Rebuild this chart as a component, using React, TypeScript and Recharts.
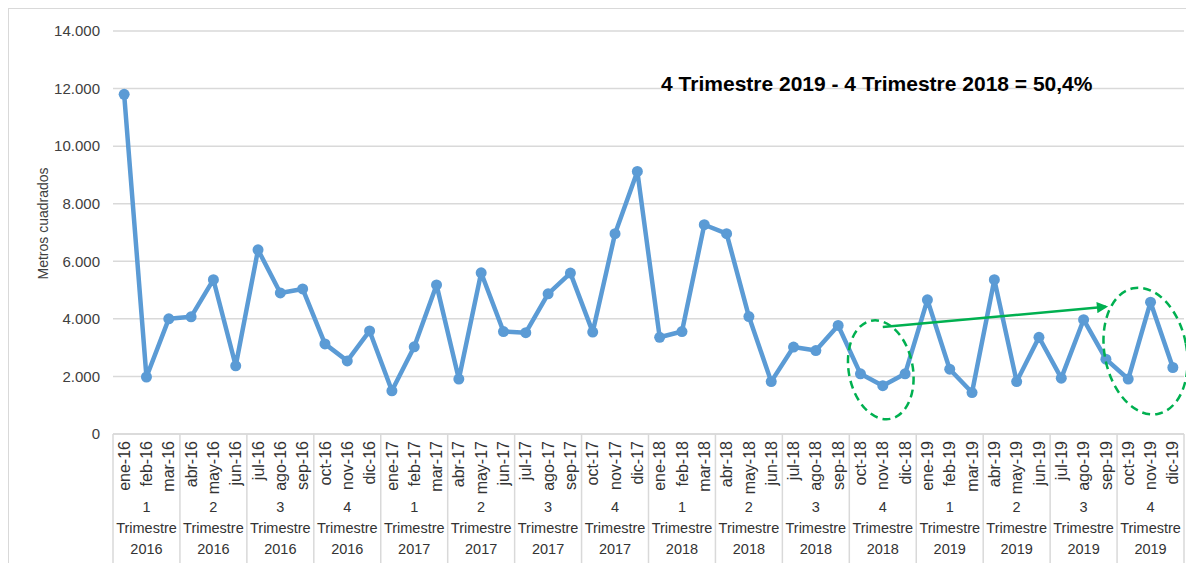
import { LineChart, Line, XAxis, YAxis, CartesianGrid, ReferenceDot, ReferenceLine } from "recharts";

const months = [
  "ene-16", "feb-16", "mar-16", "abr-16", "may-16", "jun-16", "jul-16", "ago-16", "sep-16", "oct-16", "nov-16", "dic-16",
  "ene-17", "feb-17", "mar-17", "abr-17", "may-17", "jun-17", "jul-17", "ago-17", "sep-17", "oct-17", "nov-17", "dic-17",
  "ene-18", "feb-18", "mar-18", "abr-18", "may-18", "jun-18", "jul-18", "ago-18", "sep-18", "oct-18", "nov-18", "dic-18",
  "ene-19", "feb-19", "mar-19", "abr-19", "may-19", "jun-19", "jul-19", "ago-19", "sep-19", "oct-19", "nov-19", "dic-19",
];

// metros cuadrados por mes
const metros = [
  11800, 1980, 4000, 4070, 5360, 2370, 6400, 4900, 5040, 3130, 2540, 3580,
  1500, 3030, 5180, 1910, 5600, 3560, 3520, 4870, 5590, 3540, 6960, 9120,
  3360, 3560, 7270, 6960, 4080, 1820, 3020, 2900, 3770, 2090, 1680, 2090,
  4660, 2250, 1440, 5360, 1820, 3360, 1940, 3970, 2600, 1910, 4580, 2310,
];

const quarterNums = ["1", "2", "3", "4", "1", "2", "3", "4", "1", "2", "3", "4", "1", "2", "3", "4"];
const quarterYears = ["2016", "2016", "2016", "2016", "2017", "2017", "2017", "2017", "2018", "2018", "2018", "2018", "2019", "2019", "2019", "2019"];

const yTicks = [0, 2000, 4000, 6000, 8000, 10000, 12000, 14000];

const annotation = "4 Trimestre 2019 - 4 Trimestre 2018 = 50,4%";

const BLUE = "#5b9bd5";
const GREEN = "#00b050";
const GRID = "#d9d9d9";
const TEXT = "#404040";

const PLOT_W = 1071;
const HALF = PLOT_W / months.length / 2; // media celda de categoría

const data = months.map((m, i) => ({ month: m, value: metros[i] }));

const fmt = (v: number) => String(v).replace(/\B(?=(\d{3})+(?!\d))/g, ".");

function MonthTick(props: any) {
  const { x, y, payload, index } = props;
  const q = Math.floor(index / 3);
  return (
    <g>
      <text
        x={x}
        y={y + 7}
        transform={`rotate(-90 ${x} ${y + 7})`}
        textAnchor="end"
        dy="0.35em"
        fontSize={16}
        fill="#333"
      >
        {payload.value}
      </text>
      {index % 3 === 0 && <line x1={x - HALF} x2={x - HALF} y1={y} y2={y + 140} stroke={GRID} strokeWidth={1.5} />}
      {index === months.length - 1 && <line x1={x + HALF} x2={x + HALF} y1={y} y2={y + 140} stroke={GRID} strokeWidth={1.5} />}
      {index % 3 === 1 && (
        <text textAnchor="middle" fontSize={14.5} fill="#333">
          <tspan x={x} y={y + 78}>{quarterNums[q]}</tspan>
          <tspan x={x} y={y + 99}>Trimestre</tspan>
          <tspan x={x} y={y + 120}>{quarterYears[q]}</tspan>
        </text>
      )}
    </g>
  );
}

function YLabel(props: any) {
  const { viewBox } = props;
  const cx = viewBox.x + 34;
  const cy = viewBox.y + viewBox.height / 2 - 9;
  return (
    <text x={cx} y={cy} transform={`rotate(-90 ${cx} ${cy})`} textAnchor="middle" dy="0.35em" fontSize={14} fill={TEXT}>
      Metros cuadrados
    </text>
  );
}

function Ellipse(rx: number, ry: number, dx: number) {
  return (props: any) => (
    <ellipse
      cx={props.cx + dx}
      cy={props.cy}
      rx={rx}
      ry={ry}
      transform={`rotate(-11 ${props.cx + dx} ${props.cy})`}
      fill="none"
      stroke={GREEN}
      strokeWidth={2.5}
      strokeDasharray="8 5"
    />
  );
}

function Arrow(props: any) {
  const { x1, y1, x2, y2 } = props;
  return (
    <g>
      <defs>
        <marker id="flecha" viewBox="0 0 10 10" refX="8" refY="5" markerWidth="5" markerHeight="4.5" orient="auto" markerUnits="strokeWidth">
          <path d="M0,0 L10,5 L0,10 z" fill={GREEN} />
        </marker>
      </defs>
      <line x1={x1} y1={y1} x2={x2} y2={y2} stroke={GREEN} strokeWidth={2.5} markerEnd="url(#flecha)" />
    </g>
  );
}

function Title(props: any) {
  return (
    <text x={props.cx - 6} y={props.cy} textAnchor="middle" dy="0.35em" fontSize={21} fontWeight="bold" fill="#000">
      {annotation}
    </text>
  );
}

export default function App() {
  return (
    <div
      style={{
        width: 1186,
        height: 555,
        boxSizing: "border-box",
        borderTop: `1px solid ${GRID}`,
        borderLeft: `1px solid ${GRID}`,
        fontFamily: '"Liberation Sans", Arial, sans-serif',
        background: "#fff",
      }}
    >
      <style>{"html,body{overflow:hidden}"}</style>
      <LineChart width={1185} height={554} data={data} margin={{ top: 22, right: 10, left: 0, bottom: 0 }}>
        <CartesianGrid vertical={false} stroke={GRID} strokeWidth={1.5} />
        <XAxis
          dataKey="month"
          interval={0}
          height={129}
          padding={{ left: HALF, right: HALF }}
          tickLine={false}
          tickSize={0}
          tickMargin={0}
          axisLine={{ stroke: GRID, strokeWidth: 1.5 }}
          tick={<MonthTick />}
        />
        <YAxis
          domain={[0, 14000]}
          ticks={yTicks}
          width={104}
          axisLine={false}
          tickLine={false}
          tickSize={6}
          tickMargin={7}
          tickFormatter={fmt}
          tick={{ fontSize: 15, fill: TEXT }}
          label={{ content: <YLabel /> }}
        />
        <Line
          type="linear"
          dataKey="value"
          stroke={BLUE}
          strokeWidth={4.5}
          strokeLinejoin="round"
          dot={{ r: 5.5, fill: BLUE, stroke: "none" }}
          isAnimationActive={false}
        />
        <ReferenceDot x="nov-18" y={2230} r={0} shape={Ellipse(32, 50, -2)} />
        <ReferenceDot x="nov-19" y={2880} r={0} shape={Ellipse(41, 64, -5)} />
        <ReferenceLine
          segment={[
            { x: "nov-18", y: 3720 },
            { x: "sep-19", y: 4420 },
          ]}
          shape={<Arrow />}
        />
        <ReferenceDot x="nov-18" y={12170} r={0} shape={<Title />} />
      </LineChart>
    </div>
  );
}
